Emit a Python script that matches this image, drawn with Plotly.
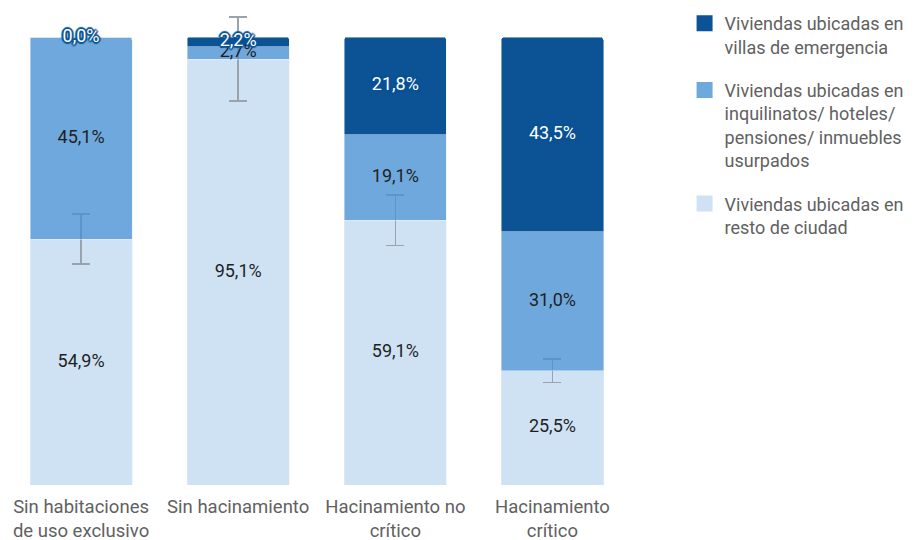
"""
Viviendas según hacinamiento y tipo de ubicación (barras apiladas al 100%).
"""
import numpy as np
import plotly.graph_objects as go

# Datos
categorias = [
    "Sin habitaciones<br>de uso exclusivo",
    "Sin hacinamiento",
    "Hacinamiento no<br>crítico",
    "Hacinamiento<br>crítico",
]
resto_ciudad = [54.9, 95.1, 59.1, 25.5]
inquilinatos = [45.1, 2.7, 19.1, 31.0]
villas = [0.0, 2.2, 21.8, 43.5]
error_resto = [5.6, 9.4, 5.6, 2.6]

nombres = [
    "Viviendas ubicadas en<br>villas de emergencia",
    "Viviendas ubicadas en<br>inquilinatos/ hoteles/<br>pensiones/ inmuebles<br>usurpados",
    "Viviendas ubicadas en<br>resto de ciudad",
]

# Colores (el intermedio es semitransparente para dejar ver la barra de error)
COLOR_OSCURO = "#0b5394"
COLOR_MEDIO = "rgba(75,146,211,0.8)"
COLOR_MEDIO_LEYENDA = "#6fa8dc"
COLOR_CLARO = "#cfe2f3"
FUENTE = "Roboto"


def etiqueta(v: float) -> str:
    """Formatea un porcentaje con coma decimal."""
    return f"{v:.1f}".replace(".", ",") + "%"


fig = go.Figure()

# Barras apiladas: de abajo hacia arriba
fig.add_trace(go.Bar(
    x=categorias, y=resto_ciudad, marker_color=COLOR_CLARO, showlegend=False,
    error_y=dict(type="data", array=error_resto, color="#9aa3ab", thickness=1.5, width=9),
))
fig.add_trace(go.Bar(x=categorias, y=inquilinatos, marker_color=COLOR_MEDIO, showlegend=False))
fig.add_trace(go.Bar(x=categorias, y=villas, marker_color=COLOR_OSCURO, showlegend=False))

# Etiquetas en el centro de cada segmento
base_medio = np.array(resto_ciudad)
base_oscuro = base_medio + np.array(inquilinatos)
desplazamientos = [(-2, 0), (2, 0), (0, -2), (0, 2), (-1, -1), (1, 1), (-1, 1), (1, -1)]
halo = ", ".join(f"{dx}px {dy}px 1px {COLOR_OSCURO}" for dx, dy in desplazamientos)

fig.add_trace(go.Scatter(
    x=categorias, y=base_medio / 2, mode="text",
    text=[etiqueta(v) for v in resto_ciudad],
    textfont=dict(family=FUENTE, size=18, color="#1f1f1f"),
    showlegend=False, hoverinfo="skip",
))
fig.add_trace(go.Scatter(
    x=categorias, y=base_medio + np.array(inquilinatos) / 2, mode="text",
    text=[etiqueta(v) for v in inquilinatos],
    textfont=dict(family=FUENTE, size=18, color="#1f1f1f"),
    showlegend=False, hoverinfo="skip",
))
fig.add_trace(go.Scatter(
    x=categorias, y=base_oscuro + np.array(villas) / 2, mode="text",
    text=[etiqueta(v) for v in villas],
    textfont=dict(family=FUENTE, size=18, color="white", shadow=halo),
    showlegend=False, hoverinfo="skip",
))

# Entradas de leyenda (cuadrados más grandes que los de las barras)
for i, (nombre, color) in enumerate(zip(nombres, [COLOR_OSCURO, COLOR_MEDIO_LEYENDA, COLOR_CLARO])):
    fig.add_trace(go.Scatter(
        x=[None], y=[None], mode="markers", name=nombre, legendgroup=f"g{i}",
        marker=dict(symbol="square", size=16, color=color),
    ))

# La página deja 8 px de margen en el body: el gráfico se compensa hacia arriba/izquierda
fig.update_layout(
    width=916, height=540,
    barmode="stack", bargap=0.35, barcornerradius=3,
    plot_bgcolor="white", paper_bgcolor="white",
    font=dict(family=FUENTE, size=18, color="#616161"),
    margin=dict(l=0, r=293, t=8, b=63, autoexpand=False),
    xaxis=dict(range=[-0.465, 3.5], showgrid=False, zeroline=False, showline=False,
               ticks="", automargin=False, ticklabelstandoff=8,
               tickfont=dict(size=18.5, color="#616161")),
    yaxis=dict(range=[0, 104.7], visible=False, automargin=False),
    legend=dict(x=1.086, xanchor="left", y=1.0235, yanchor="top", valign="top",
                traceorder="grouped", tracegroupgap=17,
                font=dict(family=FUENTE, size=18, color="#616161")),
)

fig.write_html("out.html")
